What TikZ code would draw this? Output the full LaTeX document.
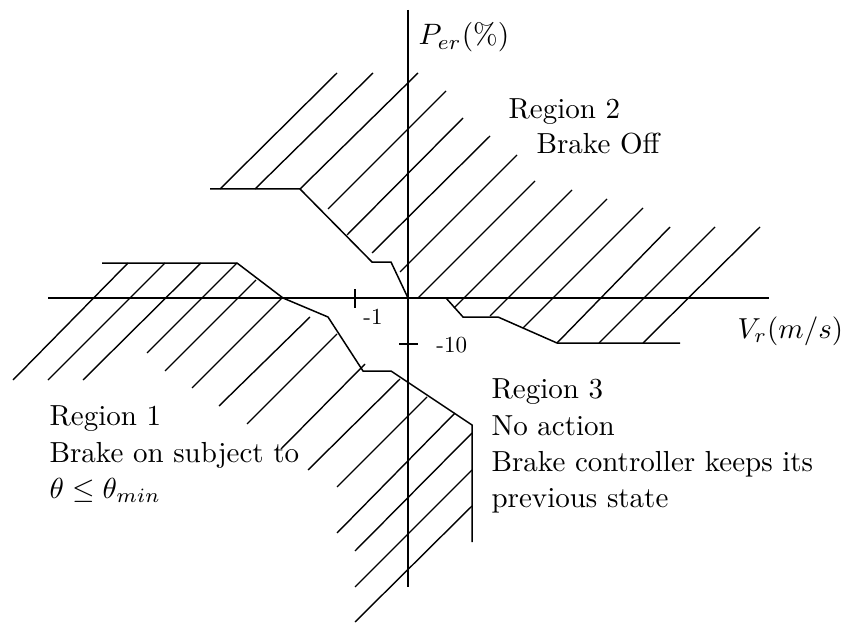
\documentclass[tikz,border=0pt]{standalone}
\begin{document}
\begin{tikzpicture}[x=1pt,y=-1pt,
  ln/.style={line width=1.5pt},
  hatch/.style={line width=1.4pt},
  lbl/.style={anchor=base west, inner sep=0pt, scale=2.9},
  mlbl/.style={anchor=base west, inner sep=0pt, scale=2.95},
  tlbl/.style={anchor=base west, inner sep=0pt, scale=2.3}]
\useasboundingbox (0,0) rectangle (847,623);
% axes
\draw[ln] (48,298) -- (769,298);
\draw[ln] (408,10) -- (408,587);
% ticks
\draw[ln] (355,289) -- (355,308);
\draw[ln] (399,344) -- (418,344);
% region 2 boundary
\draw[ln,line join=miter] (210,189) -- (300,189) -- (372,262) -- (391,262) -- (408,298) -- (446,298) -- (463,317) -- (498,317) -- (557,343) -- (680,343);
\draw[line width=2.2pt] (408,298) -- (446,298);
% region 1 boundary
\draw[ln,line join=miter] (102,263) -- (237,263) -- (283,298) -- (328,317) -- (363,371) -- (391,371) -- (472,425) -- (472,542);
% hatches region 2
\foreach \a/\b/\c/\d in {220/189/337/73, 255/189/373/73, 300/189/418/73, 328/209/446/91,
  347/235/463/118, 372/253/490/136, 400/272/517/155, 418/298/535/181, 454/308/572/190,
  490/316/607/199, 523/328/643/208, 557/343/670/227, 599/343/715/227, 643/343/760/227}
  \draw[hatch] (\a,\b) -- (\c,\d);
% hatches region 1
\foreach \a/\b/\c/\d in {13/380/128/263, 48/380/165/263, 83/380/201/263, 147/353/237/263,
  165/371/256/280, 192/388/282/298, 219/406/310/317, 247/424/337/334, 281/449/365/364,
  308/470/400/379, 337/487/427/397, 337/533/455/413, 355/551/472/433, 355/587/472/470,
  355/622/472/506}
  \draw[hatch] (\a,\b) -- (\c,\d);
% axis labels
\node[mlbl] (py) at (418,45) {$P_{er}(\%)$};
\node[mlbl,scale=0.98] (vx) at (737,338) {$V_r(m/s)$};
\node[tlbl] (t1) at (363,324) {-1};
\node[tlbl] (t10) at (436,352) {-10};
% region texts
\node[lbl] (r2a) at (508,119) {Region 2};
\node[lbl] (r2b) at (536,154) {Brake Off};
\node[lbl] (r1a) at (49,425) {Region 1};
\node[lbl] (r1b) at (49,462) {Brake on subject to};
\node[lbl] (r1c) at (49,498) {$\theta\leq\theta_{min}$};
\node[lbl] (r3a) at (491,398) {Region 3};
\node[lbl] (r3b) at (491,435) {No action};
\node[lbl] (r3c) at (491,471) {Brake controller keeps its};
\node[lbl] (r3d) at (491,507) {previous state};
\end{tikzpicture}
\end{document}
